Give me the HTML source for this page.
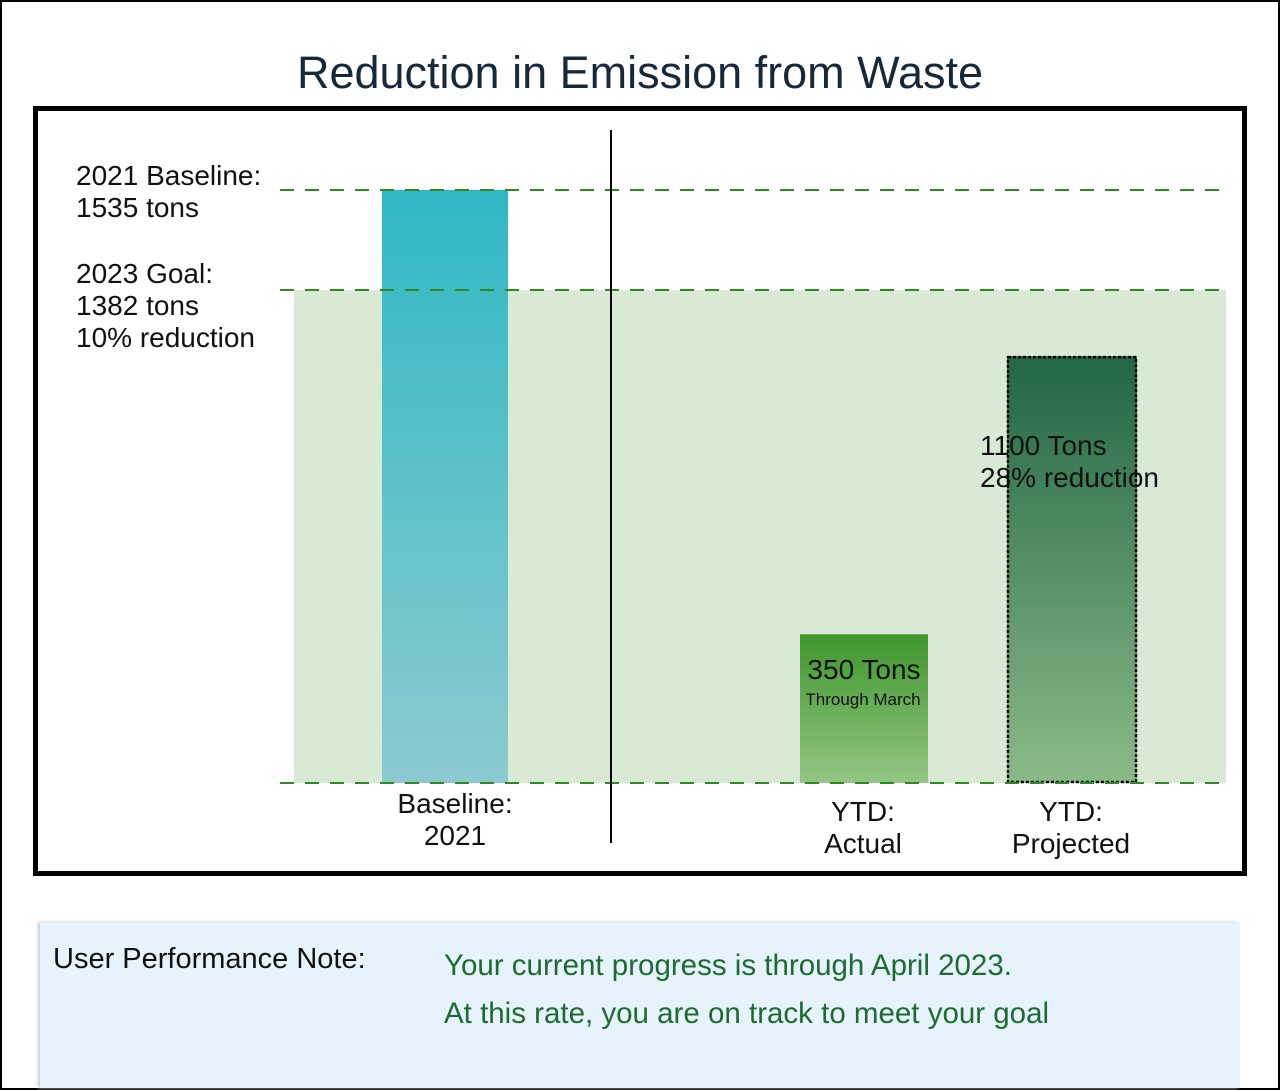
<!DOCTYPE html>
<html><head><meta charset="utf-8"><style>
body{margin:0;width:1280px;height:1090px;background:#fff;font-family:"Liberation Sans",sans-serif;overflow:hidden}
#page{position:absolute;left:0;top:0;width:1276px;height:1086px;border:2px solid #000}
.t{position:absolute;white-space:nowrap;color:#111}
</style></head><body>
<div id="page"></div>
<div class="t" style="left:0;width:1280px;text-align:center;top:47px;font-size:45px;color:#15293a">Reduction in Emission from Waste</div>
<svg id="chart" width="1280" height="1090" style="position:absolute;left:0;top:0">
<defs>
<linearGradient id="g0" x1="0" y1="0" x2="0" y2="1"><stop offset="0" stop-color="#2fb8c4"/><stop offset="1" stop-color="#8ccad0"/></linearGradient>
<linearGradient id="g1" x1="0" y1="0" x2="0" y2="1"><stop offset="0" stop-color="#3f962c"/><stop offset="1" stop-color="#93c683"/></linearGradient>
<linearGradient id="g2" x1="0" y1="0" x2="0" y2="1"><stop offset="0" stop-color="#226644"/><stop offset="1" stop-color="#8bba88"/></linearGradient>
</defs>
<rect x="35.5" y="108.5" width="1209" height="765" fill="none" stroke="#000" stroke-width="5"/>
</svg>
<div class="t" style="left:76px;top:160px;font-size:28px;line-height:32px">2021 Baseline:<br>1535 tons</div>
<div class="t" style="left:76px;top:258px;font-size:28px;line-height:32px">2023 Goal:<br>1382 tons<br>10% reduction</div>
<div class="t" style="left:980px;top:430px;font-size:28px;line-height:32px">1100 Tons<br>28% reduction</div>
<div class="t" style="left:795px;top:654px;width:138px;text-align:center;font-size:28px;line-height:32px">350 Tons</div>
<div class="t" style="left:790px;top:690px;width:146px;text-align:center;font-size:17px">Through March</div>
<div class="t" style="left:345px;top:788px;width:220px;text-align:center;font-size:28px;line-height:32px">Baseline:<br>2021</div>
<div class="t" style="left:753px;top:796px;width:220px;text-align:center;font-size:28px;line-height:32px">YTD:<br>Actual</div>
<div class="t" style="left:961px;top:796px;width:220px;text-align:center;font-size:28px;line-height:32px">YTD:<br>Projected</div>
<div style="position:absolute;left:40px;top:922px;width:1200px;height:166px;background:#e6f3fc;box-shadow:-2px 0 3px #ccc"></div>
<div class="t" style="left:53px;top:943px;font-size:29px">User Performance Note:</div>
<div class="t" style="left:444px;top:942px;font-size:29.5px;line-height:48px;color:#1d6b2e">Your current progress is through April 2023.<br>At this rate, you are on track to meet your goal</div>
<script>
const categories=["Baseline 2021","YTD Actual","YTD Projected"];
const barValues=[1535,385,1105];
const baselineValue=1535;
const goalLineValue=1276;
const zeroValue=0;
const svg=document.getElementById('chart');
const NS="http://www.w3.org/2000/svg";
const y0=783,pxPerTon=593/1535;
function y(v){return y0-v*pxPerTon;}
const barX=[382,800,1007],barW=[126,128,130],fills=["url(#g0)","url(#g1)","url(#g2)"];
function mk(t,a){const e=document.createElementNS(NS,t);for(const k in a)e.setAttribute(k,a[k]);svg.appendChild(e);return e;}
const band=mk('rect',{x:294,y:y(goalLineValue),width:932,height:y(zeroValue)-y(goalLineValue),fill:'#d8ead4'});


barValues.forEach((v,i)=>{
  const r=mk('rect',{x:barX[i],y:y(v),width:barW[i],height:y0-y(v),fill:fills[i]});
  
  
  if(i===2){
    const o=mk('rect',{x:barX[i]+1,y:y(v)+1,width:barW[i]-2,height:y0-y(v)-2,fill:'none',stroke:'#000','stroke-width':2.5,'stroke-dasharray':'3 2'});
    
    
  }
});
[[baselineValue,'baseline-line'],[goalLineValue,'goal-line'],[zeroValue,'zero-line']].forEach(([v,n])=>{
  const l=mk('line',{x1:280,x2:1226,y1:y(v),y2:y(v),stroke:'#2c8a1e','stroke-width':2,'stroke-dasharray':'14 11'});
  
  
});
const d=mk('line',{x1:611,x2:611,y1:130,y2:843,stroke:'#000','stroke-width':2});


</script>
</body></html>
